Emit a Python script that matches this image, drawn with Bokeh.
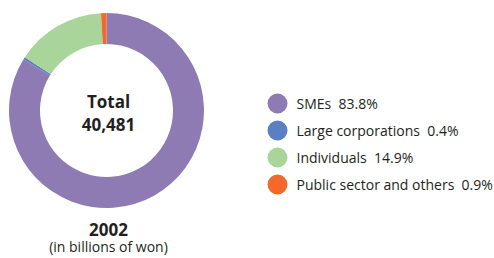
import math
from bokeh.plotting import figure
from bokeh.models import Range1d, ColumnDataSource
from bokeh.core.properties import value
from bokeh.embed import file_html
from bokeh.resources import INLINE

categories = ["SMEs", "Large corporations", "Individuals", "Public sector and others"]
shares = [83.8, 0.4, 14.9, 0.9]
colors = ["#8f7bb3", "#5a7fc2", "#a9d59a", "#f2692a"]
total_label = "40,481"
year_label = "2002"
unit_label = "(in billions of won)"

W, H = 494, 258
p = figure(width=W, height=H, output_backend="svg", toolbar_location=None,
           x_range=Range1d(0, W), y_range=Range1d(0, H), min_border=0)
p.axis.visible = False
p.grid.visible = False
p.outline_line_color = None
p.background_fill_color = "white"
p.border_fill_color = "white"

def Y(y):
    return H - y

# donut
cx, cy = 106, Y(110)
tot = sum(shares)
starts, ends = [], []
cum = 0.0
for s in shares:
    starts.append(math.pi / 2 - cum / tot * 2 * math.pi)
    cum += s
    ends.append(math.pi / 2 - cum / tot * 2 * math.pi)
src = ColumnDataSource(dict(start=starts, end=ends, color=colors))
p.annular_wedge(x=cx, y=cy, inner_radius=66.5, outer_radius=97.5,
                start_angle="start", end_angle="end", direction="clock",
                color="color", line_color=None, source=src)

# center text
p.text(x=[cx + 2], y=[Y(101)], text=["Total"], text_font=value("Open Sans"),
       text_font_style="bold", text_font_size="17px", text_align="center",
       text_baseline="middle", text_color="#231f20")
p.text(x=[cx + 2], y=[Y(124)], text=[total_label], text_font=value("Open Sans"),
       text_font_style="bold", text_font_size="17px", text_align="center",
       text_baseline="middle", text_color="#231f20")

# year & unit
p.text(x=[cx + 2], y=[Y(229)], text=[year_label], text_font=value("Open Sans"),
       text_font_style="bold", text_font_size="17px", text_align="center",
       text_baseline="middle", text_color="#231f20")
p.text(x=[cx + 2], y=[Y(246)], text=[unit_label], text_font=value("Open Sans"),
       text_font_size="14px", text_align="center",
       text_baseline="middle", text_color="#231f20")

# legend
ly = [Y(103 + 27 * i) for i in range(len(categories))]
labels = [f"{c}\u00a0\u00a0{s}%" for c, s in zip(categories, shares)]
p.scatter(x=[277] * len(categories), y=ly, size=20, marker="circle",
          color=colors, line_color=None)
p.text(x=[296] * len(categories), y=ly, text=labels, text_font=value("Open Sans"),
       text_font_size="14px", text_align="left", text_baseline="middle",
       text_color="#231f20")

open("out.html", "w").write(file_html(p, INLINE))
